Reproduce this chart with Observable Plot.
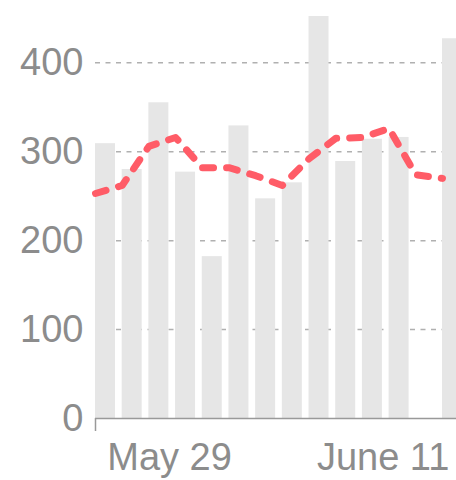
<!DOCTYPE html>
<html><head><meta charset="utf-8">
<script src="https://cdn.jsdelivr.net/npm/d3@7"></script>
<script src="https://cdn.jsdelivr.net/npm/@observablehq/plot@0.6"></script>
<style>
html,body{margin:0;padding:0;background:#fff;}
#chart{width:456px;height:480px;overflow:hidden;}
</style></head><body><div id="chart"></div>
<script>
const barIndex = [0, 1, 2, 3, 4, 5, 6, 7, 8, 9, 10, 11, 12, 13];
const barValues = [309, 280, 355, 277, 182, 329, 247, 265, 452, 289, 314, 316, null, 427];
const avgValues = [253, 262, 306, 316, 282, 282, 273, 262, 292, 315, 316, 326, 274, 270];
const yTicks = [0, 100, 200, 300, 400];
const gridTicks = [100, 200, 300, 400];
const xTickAt = [3, 11];
const xTickLabels = ["May 29", "June 11"];

const bars = barIndex.map((i, k) => ({i, v: barValues[k]})).filter(d => d.v != null);
const avg = barIndex.map((i, k) => ({i, v: avgValues[k]}));

const chart = Plot.plot({
  width: 456, height: 480,
  marginLeft: 95, marginRight: 0, marginTop: 0, marginBottom: 62,
  style: {fontFamily: "'Liberation Sans', Arial, sans-serif", fontSize: "38px", color: "#8c8c8c", background: "#fff", overflow: "hidden"},
  x: {domain: [0, 13.525]},
  y: {domain: [0, 470]},
  marks: [
    Plot.ruleY(gridTicks, {stroke: "#b0b0b0", strokeWidth: 1.5, strokeDasharray: "5,5.5"}),
    Plot.rectY(bars, {x1: "i", x2: d => d.i + 1, y1: 0, y2: "v", insetRight: 6.7, fill: "#e6e6e6"}),
    Plot.ruleY([0], {stroke: "#999", strokeWidth: 1.5}),
    Plot.lineY(avg, {x: "i", y: "v", stroke: "#ff5c67", strokeWidth: 7, strokeDasharray: "11,13"}),
    Plot.axisY(yTicks, {tickSize: 0, tickPadding: 12, fontSize: 38, label: null}),
    Plot.axisX(xTickAt, {tickSize: 0, tickPadding: 25, dx: -6, fontSize: 38, label: null, tickFormat: d => xTickLabels[xTickAt.indexOf(d)]}),
    Plot.axisX([0], {tickSize: 13, tickFormat: () => "", label: null, stroke: "#999", strokeWidth: 1.5})
  ]
});
document.getElementById("chart").appendChild(chart);
</script></body></html>
